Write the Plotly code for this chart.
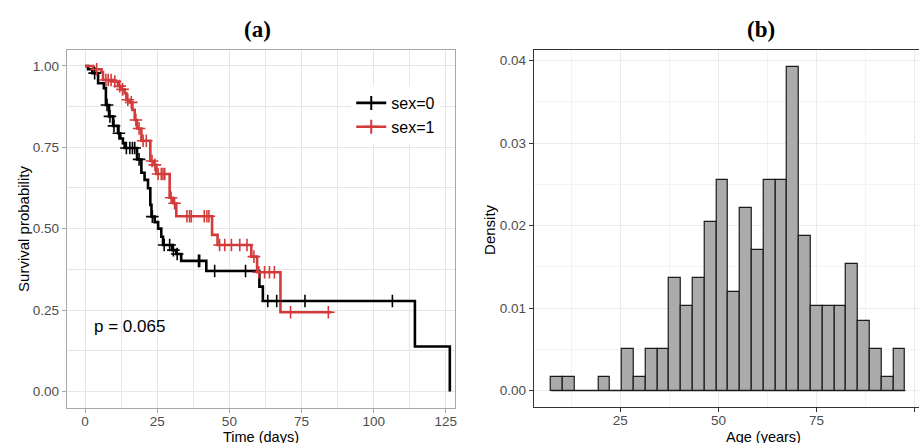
import plotly.graph_objects as go

# ---------------- Panel (a): Kaplan-Meier curves ----------------
sex0_time = [0, 1.0, 2.5, 4.5, 6.5, 7.2, 8.3, 9.7, 11.4, 12.2, 13.1, 13.7, 18.0, 19.5, 20.6,
             21.8, 22.6, 23.0, 24.1, 25.3, 26.4, 27.0, 30.2, 31.6, 33.3, 42.0, 60.4, 61.6,
             114.3, 126.4]
sex0_surv = [1.0, 0.990, 0.978, 0.947, 0.932, 0.880, 0.845, 0.816, 0.793, 0.777, 0.763, 0.748,
             0.713, 0.672, 0.650, 0.624, 0.573, 0.537, 0.520, 0.500, 0.475, 0.450, 0.434, 0.422,
             0.401, 0.370, 0.322, 0.278, 0.138, 0.0]
sex0_cens_time = [3.3, 7.6, 8.6, 10.0, 11.7, 14.3, 15.5, 16.4, 17.2, 18.7, 23.3, 27.4, 29.3,
                  30.6, 31.9, 39.3, 39.7, 44.9, 55.6, 63.3, 66.4, 76.2, 106.5]
sex0_cens_surv = [0.978, 0.880, 0.845, 0.816, 0.793, 0.748, 0.748, 0.748, 0.748, 0.713, 0.537,
                  0.450, 0.450, 0.434, 0.422, 0.401, 0.401, 0.370, 0.370, 0.278, 0.278, 0.278,
                  0.278]

sex1_time = [0, 2.8, 5.6, 6.2, 9.7, 11.4, 12.5, 13.7, 14.3, 15.5, 16.4, 17.2, 18.0, 19.5,
             22.6, 23.8, 24.7, 29.3, 30.4, 31.6, 44.0, 45.9, 57.6, 59.6, 67.7, 85.5]
sex1_surv = [1.0, 0.990, 0.981, 0.957, 0.952, 0.938, 0.928, 0.916, 0.896, 0.888, 0.865, 0.834,
             0.808, 0.770, 0.708, 0.696, 0.668, 0.595, 0.578, 0.538, 0.481, 0.450, 0.414,
             0.366, 0.243, 0.243]
sex1_cens_time = [4.0, 7.2, 8.0, 9.0, 10.3, 12.0, 13.0, 14.8, 16.0, 17.6, 18.7, 20.1, 21.2,
                  23.2, 24.2, 25.3, 26.4, 27.0, 27.6, 29.8, 31.0, 35.3, 36.2, 36.8, 41.3,
                  42.2, 42.9, 46.6, 48.4, 50.7, 53.6, 56.1, 58.5, 60.2, 62.2, 63.9, 65.6,
                  71.2, 84.3]
sex1_cens_surv = [0.990, 0.957, 0.957, 0.957, 0.952, 0.938, 0.928, 0.896, 0.888, 0.834, 0.808,
                  0.770, 0.770, 0.708, 0.696, 0.668, 0.668, 0.668, 0.668, 0.595, 0.578, 0.538,
                  0.538, 0.538, 0.538, 0.538, 0.538, 0.450, 0.450, 0.450, 0.450, 0.450, 0.414,
                  0.366, 0.366, 0.366, 0.366, 0.243, 0.243]

group_labels = ["sex=0", "sex=1"]
p_text = "p = 0.065"
km_xticks = [0, 25, 50, 75, 100, 125]
km_yticks = [0.0, 0.25, 0.5, 0.75, 1.0]
km_yticklabels = ["0.00", "0.25", "0.50", "0.75", "1.00"]

# ---------------- Panel (b): Age histogram ----------------
age_bin_centers = [8.90, 11.91, 14.91, 17.92, 20.93, 23.94, 26.94, 29.95, 32.96, 35.96, 38.97,
                   41.98, 44.99, 47.99, 51.00, 54.01, 57.02, 60.02, 63.03, 66.04, 69.04, 72.05,
                   75.06, 78.07, 81.07, 84.08, 87.09, 90.09, 93.10, 96.11]
age_bin_width = 3.007
age_density = [0.0017, 0.0017, 0, 0, 0.0017, 0, 0.0051, 0.0017, 0.0051, 0.0051, 0.0137, 0.0103,
               0.0137, 0.0205, 0.0256, 0.0120, 0.0222, 0.0171, 0.0256, 0.0256, 0.0393, 0.0188,
               0.0103, 0.0103, 0.0103, 0.0154, 0.0085, 0.0051, 0.0017, 0.0051]
hist_xticks = [25, 50, 75, 100]
hist_yticks = [0.0, 0.01, 0.02, 0.03, 0.04]
hist_yticklabels = ["0.00", "0.01", "0.02", "0.03", "0.04"]

BLACK = "#000000"
RED = "#D33B3B"
FONT = "Liberation Sans, Arial, sans-serif"

W, H = 921, 443

def px_x(p):
    return p / W

def px_y(p):
    return 1 - p / H

fig = go.Figure()

# KM curves
fig.add_trace(go.Scatter(x=sex0_time, y=sex0_surv, mode="lines", line=dict(color=BLACK, width=2.6, shape="hv"),
                         showlegend=False, xaxis="x", yaxis="y", hoverinfo="skip"))
fig.add_trace(go.Scatter(x=sex1_time, y=sex1_surv, mode="lines", line=dict(color=RED, width=2.6, shape="hv"),
                         showlegend=False, xaxis="x", yaxis="y", hoverinfo="skip"))
fig.add_trace(go.Scatter(x=sex0_cens_time, y=sex0_cens_surv, mode="markers",
                         marker=dict(symbol="cross-thin", size=9, line=dict(color=BLACK, width=1.6)),
                         showlegend=False, xaxis="x", yaxis="y"))
fig.add_trace(go.Scatter(x=sex1_cens_time, y=sex1_cens_surv, mode="markers",
                         marker=dict(symbol="cross-thin", size=9, line=dict(color=RED, width=1.6)),
                         showlegend=False, xaxis="x", yaxis="y"))
# legend entries
fig.add_trace(go.Scatter(x=[None], y=[None], mode="lines+markers", name=group_labels[0],
                         line=dict(color=BLACK, width=2.6),
                         marker=dict(symbol="cross-thin", size=10, line=dict(color=BLACK, width=2)),
                         xaxis="x", yaxis="y"))
fig.add_trace(go.Scatter(x=[None], y=[None], mode="lines+markers", name=group_labels[1],
                         line=dict(color=RED, width=2.6),
                         marker=dict(symbol="cross-thin", size=10, line=dict(color=RED, width=2)),
                         xaxis="x", yaxis="y"))

# Histogram
fig.add_trace(go.Scatter(x=[age_bin_centers[0] - age_bin_width / 2, age_bin_centers[-1] + age_bin_width / 2],
                         y=[0, 0], mode="lines", line=dict(color="#1a1a1a", width=1.2),
                         showlegend=False, xaxis="x2", yaxis="y2", hoverinfo="skip"))
fig.add_trace(go.Bar(x=age_bin_centers, y=age_density, width=age_bin_width,
                     marker=dict(color="#ABABAB", line=dict(color="#1a1a1a", width=1.2)),
                     showlegend=False, xaxis="x2", yaxis="y2"))

grid_major = "#E6E6E6"

fig.update_layout(
    width=W, height=H,
    margin=dict(l=0, r=0, t=0, b=0),
    paper_bgcolor="white", plot_bgcolor="white",
    font=dict(family=FONT, size=13, color="#4D4D4D"),
    bargap=0,
    xaxis=dict(domain=[px_x(67), px_x(456)], range=[-6.33, 128.2], tickvals=km_xticks,
               showgrid=True, gridcolor=grid_major, gridwidth=1,
               minor=dict(dtick=12.5, tick0=0, showgrid=True, gridcolor=grid_major, gridwidth=1),
               zeroline=False, showline=True, mirror=True, linecolor="#A8A8A8", linewidth=1.2,
               ticks="outside", ticklen=4, tickcolor="#A8A8A8", tickwidth=1,
               ticklabelstandoff=-3,
               tickfont=dict(size=13.5, color="#4D4D4D"), anchor="y"),
    yaxis=dict(domain=[px_y(408), px_y(50)], range=[-0.051, 1.049], tickvals=km_yticks,
               ticktext=km_yticklabels,
               showgrid=True, gridcolor=grid_major, gridwidth=1,
               minor=dict(dtick=0.125, tick0=0, showgrid=True, gridcolor=grid_major, gridwidth=1),
               zeroline=False, showline=True, mirror=True, linecolor="#A8A8A8", linewidth=1.2,
               ticks="outside", ticklen=4, tickcolor="#A8A8A8", tickwidth=1,
               tickfont=dict(size=13.5, color="#4D4D4D"), anchor="x"),
    xaxis2=dict(domain=[px_x(535), 1.0], range=[2.96, 101.1], tickvals=hist_xticks,
                showgrid=True, gridcolor="#EBEBEB", gridwidth=1,
                minor=dict(dtick=12.5, tick0=0, showgrid=True, gridcolor="#F3F3F3", gridwidth=1),
                zeroline=False, showline=True, mirror=True, linecolor="#333333", linewidth=1.2,
                ticks="outside", ticklen=4, tickcolor="#333333", tickwidth=1,
                ticklabelstandoff=-3,
                tickfont=dict(size=13.5, color="#4D4D4D"), anchor="y2"),
    yaxis2=dict(domain=[px_y(406.7), px_y(50)], range=[-0.00194, 0.0413], tickvals=hist_yticks,
                ticktext=hist_yticklabels,
                showgrid=True, gridcolor="#EBEBEB", gridwidth=1,
                minor=dict(dtick=0.005, tick0=0, showgrid=True, gridcolor="#F3F3F3", gridwidth=1),
                zeroline=False, showline=True, mirror=False, linecolor="#333333", linewidth=1.2,
                ticks="outside", ticklen=4, tickcolor="#333333", tickwidth=1,
                tickfont=dict(size=13.5, color="#4D4D4D"), anchor="x2"),
    legend=dict(x=px_x(352), y=px_y(86), xanchor="left", yanchor="top",
                bgcolor="white", borderwidth=0,
                font=dict(family=FONT, size=16, color="#000000"),
                itemwidth=30, tracegroupgap=0),
)

annotations = [
    dict(text="<b>(a)</b>", x=px_x(258), y=px_y(30), xref="paper", yref="paper", showarrow=False,
         font=dict(family="Liberation Serif, DejaVu Serif, serif", size=23, color="black"),
         xanchor="center", yanchor="middle"),
    dict(text="<b>(b)</b>", x=px_x(763), y=px_y(30), xref="paper", yref="paper", showarrow=False,
         font=dict(family="Liberation Serif, DejaVu Serif, serif", size=23, color="black"),
         xanchor="center", yanchor="middle"),
    dict(text="Time (days)", x=px_x(262), y=px_y(437), xref="paper", yref="paper", showarrow=False,
         font=dict(family=FONT, size=14.5, color="black"), xanchor="center", yanchor="middle"),
    dict(text="Survival probability", x=px_x(23), y=px_y(229), xref="paper", yref="paper",
         showarrow=False, textangle=-90,
         font=dict(family=FONT, size=15, color="black"), xanchor="center", yanchor="middle"),
    dict(text="Age (years)", x=px_x(765), y=px_y(437), xref="paper", yref="paper", showarrow=False,
         font=dict(family=FONT, size=14.5, color="black"), xanchor="center", yanchor="middle"),
    dict(text="Density", x=px_x(490), y=px_y(229), xref="paper", yref="paper",
         showarrow=False, textangle=-90,
         font=dict(family=FONT, size=15, color="black"), xanchor="center", yanchor="middle"),
    dict(text=p_text, x=2.3, y=0.198, xref="x", yref="y", showarrow=False,
         font=dict(family=FONT, size=17, color="black"), xanchor="left", yanchor="middle"),
]
fig.update_layout(annotations=annotations)

fig.write_html("out.html", config={"displayModeBar": False},
               post_script="document.body.style.margin='0';document.body.style.padding='0';")
